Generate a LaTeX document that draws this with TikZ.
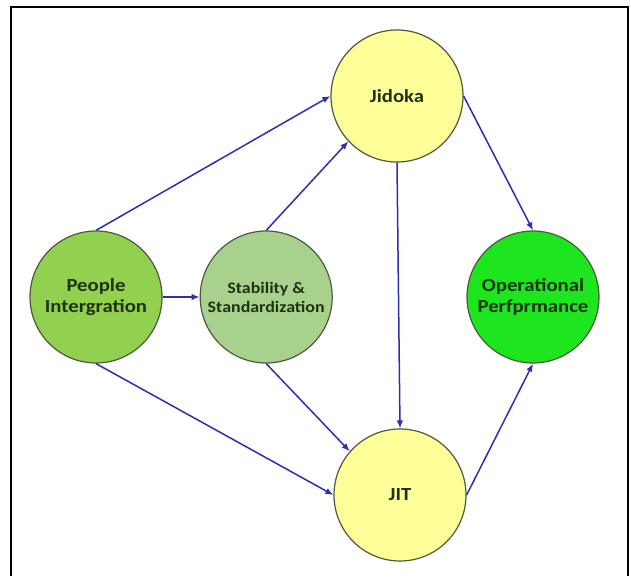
\documentclass[tikz,border=0pt]{standalone}
\usepackage{fontspec}
\setmainfont{Carlito}[FakeStretch=1.12]
\usepackage{tikz}
\usetikzlibrary{arrows.meta, positioning}
\definecolor{lpPeople}{HTML}{92D050}
\definecolor{lpStable}{HTML}{A9D18E}
\definecolor{lpPerf}{HTML}{1EE61E}
\definecolor{lpPillar}{HTML}{FFFF99}
\definecolor{lpEdge}{HTML}{4E5A3C}
\definecolor{lpText}{HTML}{1F3310}
\definecolor{lpFlow}{HTML}{2E2EB4}
\tikzset{
  lp-node/.style={
    circle, draw=lpEdge, line width=1.2pt, minimum size=132pt,
    inner sep=0pt, align=center, text=lpText,
    font=\fontsize{18.5}{21}\selectfont\bfseries
  },
  lp-small/.style={font=\fontsize{16}{19}\selectfont\bfseries},
  lp-flow/.style={-{Latex[length=8pt,width=6.5pt]}, line width=1.5pt, draw=lpFlow},
}

\begin{document}
\begin{tikzpicture}[x=1pt, y=-1pt]
  \useasboundingbox (0,0) rectangle (631,576);
  \fill[white] (0,0) rectangle (631,576);
  \draw[line width=1.2pt] (11,576) -- (11,7) -- (628,7) -- (628,576);

  \node[lp-node, fill=lpPeople] (pi) at (96,297) {People\\Intergration};
  \node[lp-node, lp-small, fill=lpStable, right=37pt of pi] (ss) {Stability \&\\Standardization};
  \node[lp-node, fill=lpPillar] (jid) at (397,96) {Jidoka};
  \node[lp-node, fill=lpPillar] (jit) at (400,495) {JIT};
  \node[lp-node, fill=lpPerf] (op) at (533,297) {Operational\\Perfprmance};

  \draw[lp-flow] (pi.north) -- (jid.west);
  \draw[lp-flow] (pi.east) -- (ss.west);
  \draw[lp-flow] (pi.south) -- (jit.west);
  \draw[lp-flow] (ss.north) -- (jid.223);
  \draw[lp-flow] (ss.south) -- (jit.139);
  \draw[lp-flow] (jid.south) -- (jit.north);
  \draw[lp-flow] (jid.east) -- (op.north);
  \draw[lp-flow] (jit.east) -- (op.south);
\end{tikzpicture}
\end{document}
